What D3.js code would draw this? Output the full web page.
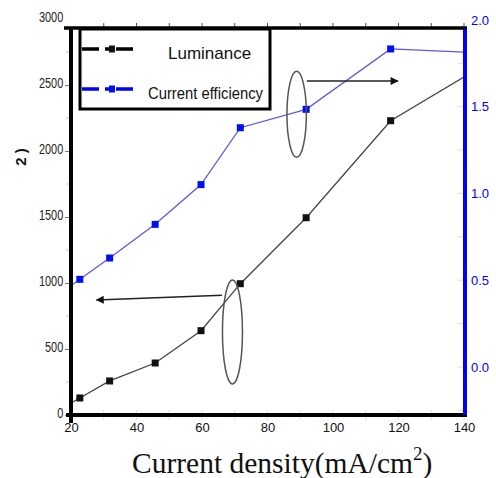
<!DOCTYPE html>
<meta charset="utf-8">
<style>
    body { margin: 0; background: #fff; }
    svg { display: block; font-family: "Liberation Sans", Arial, sans-serif; }
    .line { fill: none; stroke-width: 1.3; }
</style>
<svg width="496" height="478"></svg>
<script src="https://cdn.jsdelivr.net/npm/d3@7"></script>
<script>
    // current density (mA/cm2); first and last points sit just outside the frame
    var density = [15, 22.7, 31.8, 45.7, 59.7, 71.7, 91.8, 117.6, 150];
    var luminance = [19, 129, 258, 394, 639, 995, 1495, 2230, 2709];
    var efficiency = [0.40, 0.505, 0.628, 0.822, 1.051, 1.379, 1.485, 1.833, 1.806];

    var xTicks = [20, 40, 60, 80, 100, 120, 140];
    var leftTicks = [0, 500, 1000, 1500, 2000, 2500, 3000];
    var rightTicks = [0.0, 0.5, 1.0, 1.5, 2.0];

    var svg = d3.select("svg"),
        margin = { top: 29, right: 32, bottom: 63, left: 71 },
        width = +svg.attr("width") - margin.left - margin.right,
        height = +svg.attr("height") - margin.top - margin.bottom;

    var x = d3.scaleLinear().domain([20, 140]).range([0, width]),
        yL = d3.scaleLinear().domain([0, 2925]).range([height, 0]),
        yR = d3.scaleLinear().domain([-0.277, 1.948]).range([height, 0]);

    var lum = density.map(function (d, i) { return { x: d, y: luminance[i] }; });
    var eff = density.map(function (d, i) { return { x: d, y: efficiency[i] }; });

    var defs = svg.append("defs");
    defs.append("clipPath")
        .attr("id", "clip")
        .append("rect")
        .attr("width", width)
        .attr("height", height);
    defs.append("marker")
        .attr("id", "arrow")
        .attr("viewBox", "0 0 10 10")
        .attr("refX", 9).attr("refY", 5)
        .attr("markerWidth", 9).attr("markerHeight", 8)
        .attr("markerUnits", "userSpaceOnUse")
        .attr("orient", "auto")
        .append("path")
        .attr("d", "M0,0L10,5L0,10Z")
        .attr("fill", "#111");

    var g = svg.append("g")
        .attr("transform", "translate(" + margin.left + "," + margin.top + ")");

    // faint minor ticks
    var minorX = d3.range(30, 141, 10);
    g.append("g").selectAll("line").data(minorX).enter().append("line")
        .attr("x1", x).attr("x2", x).attr("y1", height - 5).attr("y2", height + 5)
        .attr("stroke", "#ddd");
    g.append("g").selectAll("line").data(d3.range(250, 2900, 500)).enter().append("line")
        .attr("x1", -5).attr("x2", 0).attr("y1", yL).attr("y2", yL)
        .attr("stroke", "#ccc");
    g.append("g").selectAll("line").data(d3.range(-0.25, 1.9, 0.25)).enter().append("line")
        .attr("x1", width - 6).attr("x2", width).attr("y1", yR).attr("y2", yR)
        .attr("stroke", "#ddd");

    // top ticks
    g.append("g").selectAll("line").data(minorX).enter().append("line")
        .attr("x1", x).attr("x2", x).attr("y1", -6).attr("y2", 0)
        .attr("stroke", "#555");

    // series
    var lineL = d3.line().x(function (d) { return x(d.x); }).y(function (d) { return yL(d.y); });
    var lineR = d3.line().x(function (d) { return x(d.x); }).y(function (d) { return yR(d.y); });

    var plot = g.append("g").attr("clip-path", "url(#clip)");
    plot.append("path").datum(lum).attr("class", "line").attr("stroke", "#444").attr("d", lineL);
    plot.append("path").datum(eff).attr("class", "line").attr("stroke", "#5a5ae0").attr("d", lineR);
    plot.selectAll(".mk-l").data(lum).enter().append("rect")
        .attr("class", "mk-l")
        .attr("x", function (d) { return x(d.x) - 3.5; })
        .attr("y", function (d) { return yL(d.y) - 3.5; })
        .attr("width", 7).attr("height", 7)
        .attr("fill", "#111");
    plot.selectAll(".mk-r").data(eff).enter().append("rect")
        .attr("class", "mk-r")
        .attr("x", function (d) { return x(d.x) - 3.5; })
        .attr("y", function (d) { return yR(d.y) - 3.5; })
        .attr("width", 7).attr("height", 7)
        .attr("fill", "#0010f0");

    // annotations: ellipses + arrows
    g.append("ellipse")
        .attr("cx", x(88.9)).attr("cy", yR(1.456)).attr("rx", 9.7).attr("ry", 43)
        .attr("fill", "none").attr("stroke", "#555").attr("stroke-width", 1.5);
    g.append("line")
        .attr("x1", x(92.0)).attr("y1", yR(1.648)).attr("x2", x(119.8)).attr("y2", yR(1.648))
        .attr("stroke", "#222").attr("stroke-width", 1.4).attr("marker-end", "url(#arrow)");
    g.append("ellipse")
        .attr("cx", x(69.3)).attr("cy", yL(629)).attr("rx", 10).attr("ry", 52)
        .attr("fill", "none").attr("stroke", "#555").attr("stroke-width", 1.5);
    g.append("line")
        .attr("x1", x(66.1)).attr("y1", yL(907)).attr("x2", x(27.8)).attr("y2", yL(871))
        .attr("stroke", "#222").attr("stroke-width", 1.6).attr("marker-end", "url(#arrow)");

    // axes
    var xAxis = d3.axisBottom(x).tickValues(xTicks).tickSize(0).tickPadding(8);
    var gx = g.append("g").attr("transform", "translate(0," + height + ")").call(xAxis);
    gx.select(".domain").remove();
    gx.selectAll("text").attr("font-size", 13).attr("fill", "#111")
        .attr("font-family", "Liberation Sans, Arial, sans-serif");

    var yAxisL = d3.axisLeft(yL).tickValues(leftTicks).tickSize(6).tickPadding(4)
        .tickFormat(d3.format("d"));
    var gl = g.append("g").call(yAxisL);
    gl.select(".domain").remove();
    gl.selectAll(".tick line").attr("stroke", "#777");
    gl.selectAll(".tick line").filter(function (d) { return d === 3000; }).remove();
    gl.selectAll("text")
        .attr("font-size", 14).attr("fill", "#222").attr("dy", "0.15em")
        .attr("font-family", "Liberation Sans, Arial, sans-serif")
        .attr("transform", "scale(0.78,1)");

    var yAxisR = d3.axisRight(yR).tickValues(rightTicks).tickSize(0).tickPadding(7)
        .tickFormat(d3.format(".1f"));
    var gr = g.append("g").attr("transform", "translate(" + width + ",0)").call(yAxisR);
    gr.select(".domain").remove();
    gr.selectAll("text").attr("font-size", 13).attr("fill", "#0000ff")
        .attr("font-family", "Liberation Sans, Arial, sans-serif");

    // frame lines
    g.append("line").attr("x1", -7).attr("x2", width + 3).attr("y1", -1).attr("y2", -1)
        .attr("stroke", "#000").attr("stroke-width", 3.5);
    g.append("line").attr("x1", -5).attr("x2", width + 3).attr("y1", height).attr("y2", height)
        .attr("stroke", "#000").attr("stroke-width", 4);
    g.append("line").attr("x1", 0).attr("x2", 0).attr("y1", -2).attr("y2", height + 8)
        .attr("stroke", "#000").attr("stroke-width", 4);
    g.append("line").attr("x1", width + 1).attr("x2", width + 1).attr("y1", 0).attr("y2", height)
        .attr("stroke", "#0000ff").attr("stroke-width", 4);

    // legend
    var legend = svg.append("g").attr("transform", "translate(80,29)");
    legend.append("rect").attr("width", 190).attr("height", 80)
        .attr("fill", "#fff").attr("stroke", "#000").attr("stroke-width", 3);
    var items = [
        { name: "Luminance", color: "#000", y: 20, tx: 88, len: null },
        { name: "Current efficiency", color: "#0000ff", y: 60, tx: 68, len: 115 }
    ];
    items.forEach(function (it) {
        legend.append("line").attr("x1", 2).attr("x2", 60).attr("y1", it.y).attr("y2", it.y)
            .attr("stroke", it.color).attr("stroke-width", 3.5).attr("stroke-dasharray", "17,6,5,6,17");
        legend.append("rect").attr("x", 29).attr("y", it.y - 3.5).attr("width", 6).attr("height", 7)
            .attr("fill", it.color === "#000" ? "#111" : "#0010f0");
        var t = legend.append("text").attr("x", it.tx).attr("y", it.y + 10)
            .attr("font-size", 17).attr("fill", "#111").text(it.name);
        if (it.len) t.attr("textLength", it.len).attr("lengthAdjust", "spacingAndGlyphs");
    });

    // y title fragment
    svg.append("text")
        .attr("transform", "translate(26,157) rotate(-90)")
        .attr("text-anchor", "middle")
        .attr("font-size", 15).attr("font-weight", "bold").attr("fill", "#111")
        .text("2 )");

    // x title
    var xt = svg.append("text")
        .attr("x", 132).attr("y", 473)
        .attr("font-family", "Liberation Serif, 'Times New Roman', serif")
        .attr("font-size", 29.5).attr("fill", "#111");
    xt.append("tspan").text("Current density(mA/cm");
    xt.append("tspan").attr("font-size", 19).attr("dy", -13).text("2");
    xt.append("tspan").attr("dy", 13).text(")");
</script>
